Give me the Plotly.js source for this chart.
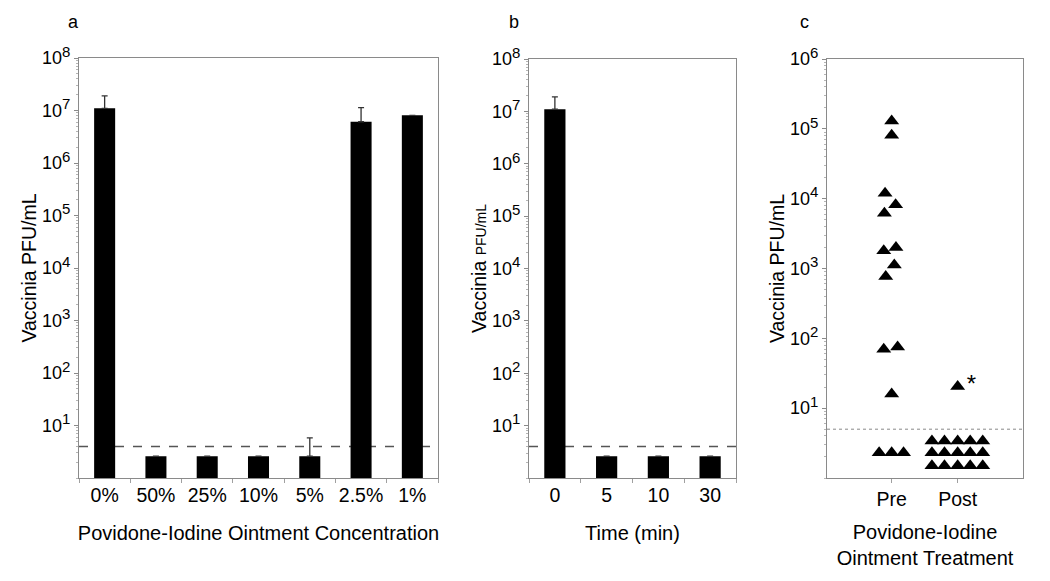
<!DOCTYPE html>
<html>
<head>
<meta charset="utf-8">
<script src="https://cdn.plot.ly/plotly-3.0.1.min.js"></script>
<style>html,body{margin:0;padding:0;background:#fff}#chart{width:1050px;height:581px}</style>
</head>
<body>
<div id="chart"></div>
<script>
// ---- Panel a: ointment concentration ----
const concCategories = ['0%', '50%', '25%', '10%', '5%', '2.5%', '1%'];
const concValues = [1.1e7, 2.6, 2.6, 2.6, 2.6, 6.1e6, 8.1e6];
const concErrors = [0.8e7, null, null, null, 3.2, 5.2e6, null];
const concLimit = 4.0;

// ---- Panel b: contact time ----
const timeCategories = ['0', '5', '10', '30'];
const timeValues = [1.1e7, 2.6, 2.6, 2.6];
const timeErrors = [0.8e7, null, null, null];
const timeLimit = 4.0;

// ---- Panel c: pre / post treatment ----
const groupLabels = ['Pre', 'Post'];
const preValues = [1.3e5, 8.1e4, 1.2e4, 8.2e3, 6.2e3, 2.0e3, 1.8e3, 1.12e3, 7.7e2, 75, 70, 16, 2.3, 2.3, 2.3];
const preJitter = [0, 0, -0.10, 0.06, -0.11, 0.065, -0.12, 0.04, -0.09, 0.09, -0.12, 0, -0.19, 0, 0.18];
const postValues = [3.4, 3.4, 3.4, 3.4, 3.4, 2.3, 2.3, 2.3, 2.3, 2.3, 1.5, 1.5, 1.5, 1.5, 1.5, 20.5];
const postJitter = [-0.39, -0.2, 0, 0.19, 0.38, -0.39, -0.2, 0, 0.19, 0.38, -0.39, -0.2, 0, 0.19, 0.38, 0];
const postNotes = ['', '', '', '', '', '', '', '', '', '', '', '', '', '', '', '*'];
const treatLimit = 5.0;

const FONT = 'Liberation Sans, Arial, sans-serif';
const W = 1050, H = 581;
const px = v => v / W;
const py = v => 1 - v / H;

function decadeTicks(n) {
  const vals = [], txt = [];
  for (let k = 1; k <= n; k++) {
    vals.push(Math.pow(10, k));
    txt.push('10<sup><span style="font-size:15px">' + k + '</span></sup>');
  }
  return {vals, txt};
}

function yAxis(top, domain, anchor, titleText) {
  const t = decadeTicks(top);
  return {
    type: 'log', range: [0, top], domain: domain, anchor: anchor,
    tickvals: t.vals, ticktext: t.txt,
    ticks: 'outside', ticklen: 4, tickcolor: '#8a8a8a', tickwidth: 1,
    minor: {ticks: 'outside', ticklen: 2, tickcolor: '#b5b5b5', dtick: 'D1'},
    showline: true, linecolor: '#8a8a8a', linewidth: 1, mirror: true,
    showgrid: false, zeroline: false,
    tickfont: {family: FONT, size: 18, color: '#000'},
    title: {text: titleText, font: {family: FONT, size: 19.5, color: '#000'}, standoff: 0},
    automargin: false, fixedrange: true
  };
}

function catAxis(domain, anchor, titleText) {
  return {
    type: 'category', domain: domain, anchor: anchor,
    ticks: 'outside', ticklen: 4, tickcolor: '#a0a0a0', tickson: 'boundaries',
    tickangle: 0,
    showline: true, linecolor: '#8a8a8a', linewidth: 1, mirror: true,
    showgrid: false, zeroline: false,
    tickfont: {family: FONT, size: 19.5, color: '#000'},
    title: {text: titleText, font: {family: FONT, size: 20, color: '#000'}, standoff: 20},
    automargin: false, fixedrange: true
  };
}

const lowerA = concErrors.map(e => (e == null ? null : 0));
const lowerB = timeErrors.map(e => (e == null ? null : 0));

const traces = [
  {
    type: 'bar', x: concCategories, y: concValues, xaxis: 'x', yaxis: 'y',
    width: 0.41, marker: {color: '#000', line: {width: 0}},
    error_y: {type: 'data', symmetric: false, array: concErrors, arrayminus: lowerA,
              color: '#333', thickness: 1.3, width: 3},
    hoverinfo: 'skip', showlegend: false
  },
  {
    type: 'bar', x: timeCategories, y: timeValues, xaxis: 'x2', yaxis: 'y2',
    width: 0.41, marker: {color: '#000', line: {width: 0}},
    error_y: {type: 'data', symmetric: false, array: timeErrors, arrayminus: lowerB,
              color: '#333', thickness: 1.3, width: 3},
    hoverinfo: 'skip', showlegend: false
  },
  {
    type: 'scatter', mode: 'markers', xaxis: 'x3', yaxis: 'y3',
    x: preValues.map((v, i) => 1 + preJitter[i]), y: preValues,
    marker: {symbol: 'triangle-up', size: 13, color: '#000'},
    hoverinfo: 'skip', showlegend: false, cliponaxis: false
  },
  {
    type: 'scatter', mode: 'markers+text', xaxis: 'x3', yaxis: 'y3',
    x: postValues.map((v, i) => 2 + postJitter[i]), y: postValues,
    text: postNotes, textposition: 'middle right',
    textfont: {family: FONT, size: 24, color: '#000'},
    marker: {symbol: 'triangle-up', size: 13, color: '#000'},
    hoverinfo: 'skip', showlegend: false, cliponaxis: false
  }
];

const yDomA = [py(478), py(58)];
const yDomBC = [py(478), py(59)];

const letterFont = {family: FONT, size: 18, color: '#000'};

const layout = {
  width: W, height: H,
  margin: {l: 0, r: 0, t: 0, b: 0},
  paper_bgcolor: '#fff', plot_bgcolor: '#fff',
  showlegend: false,
  font: {family: FONT, color: '#000'},
  xaxis: catAxis([px(79), px(438)], 'y', 'Povidone-Iodine Ointment Concentration'),
  yaxis: yAxis(8, yDomA, 'x', 'Vaccinia PFU/mL'),
  xaxis2: catAxis([px(529), px(736)], 'y2', 'Time (min)'),
  yaxis2: yAxis(8, yDomBC, 'x2', 'Vaccinia <span style="font-size:14px">PFU/mL</span>'),
  xaxis3: {
    type: 'linear', domain: [px(827), px(1023)], anchor: 'y3', range: [0.02, 2.99],
    tickvals: [1, 2], ticktext: groupLabels, tickangle: 0,
    ticks: 'outside', ticklen: 4, tickcolor: '#a0a0a0',
    showline: true, linecolor: '#8a8a8a', linewidth: 1, mirror: true,
    showgrid: false, zeroline: false,
    tickfont: {family: FONT, size: 19.5, color: '#000'},
    title: {text: 'Povidone-Iodine<br>Ointment Treatment', font: {family: FONT, size: 20, color: '#000'}, standoff: 15},
    automargin: false, fixedrange: true
  },
  yaxis3: yAxis(6, yDomBC, 'x3', 'Vaccinia PFU/mL'),
  shapes: [
    {type: 'line', xref: 'x domain', yref: 'y', x0: 0, x1: 1, y0: concLimit, y1: concLimit,
     line: {color: '#555', width: 1.5, dash: 'dash'}, layer: 'below'},
    {type: 'line', xref: 'x2 domain', yref: 'y2', x0: 0, x1: 1, y0: timeLimit, y1: timeLimit,
     line: {color: '#555', width: 1.5, dash: 'dash'}, layer: 'below'},
    {type: 'line', xref: 'x3 domain', yref: 'y3', x0: 0, x1: 1, y0: treatLimit, y1: treatLimit,
     line: {color: '#888', width: 1, dash: 'dot'}, layer: 'below'}
  ],
  annotations: [
    {text: 'a', xref: 'paper', yref: 'paper', x: px(66), y: py(22), yanchor: 'middle', showarrow: false, font: letterFont},
    {text: 'b', xref: 'paper', yref: 'paper', x: px(514), y: py(22), yanchor: 'middle', showarrow: false, font: letterFont},
    {text: 'c', xref: 'paper', yref: 'paper', x: px(811), y: py(22), yanchor: 'middle', showarrow: false, font: letterFont}
  ]
};

Plotly.newPlot('chart', traces, layout, {staticPlot: true, displayModeBar: false});
</script>
</body>
</html>
